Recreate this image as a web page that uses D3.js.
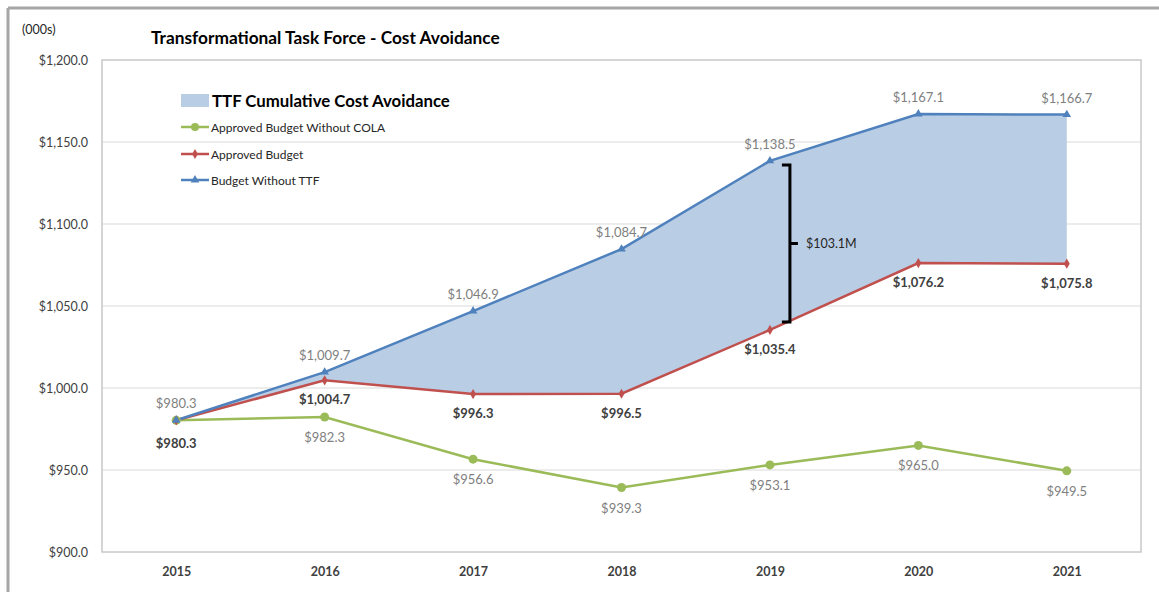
<!DOCTYPE html>
<html><head><meta charset="utf-8">
<script src="https://cdn.jsdelivr.net/npm/d3@7/dist/d3.min.js"></script>
<style>body{margin:0;background:#fff}svg{display:block;font-family:Lato,"Open Sans",sans-serif}</style>
</head><body><svg id="c" width="1159" height="592"></svg>
<script>
const years = ["2015","2016","2017","2018","2019","2020","2021"];
const budgetWithoutTTF = [980.3, 1009.7, 1046.9, 1084.7, 1138.5, 1167.1, 1166.7];
const approvedBudget = [980.3, 1004.7, 996.3, 996.5, 1035.4, 1076.2, 1075.8];
const approvedNoCOLA = [980.3, 982.3, 956.6, 939.3, 953.1, 965.0, 949.5];
const yTicks = [900, 950, 1000, 1050, 1100, 1150, 1200];
const bracket = {year: "2019", from: 1040.2, to: 1136.0, label: "$103.1M"};
const legendItems = ["Approved Budget Without COLA", "Approved Budget", "Budget Without TTF"];

const svg = d3.select("#c");
const L = 102, R = 1141, T = 60, B = 552;
const x = d3.scalePoint().domain(years).range([L, R]).padding(0.5);
const y = d3.scaleLinear().domain([900, 1200]).range([B, T]);
const fmt = v => "$" + d3.format(",.1f")(v);

// outer frame
svg.append("line").attr("x1",8).attr("x2",1159).attr("y1",8).attr("y2",8).attr("stroke","#a6a6a6").attr("stroke-width",3);
svg.append("line").attr("x1",8).attr("x2",8).attr("y1",8).attr("y2",592).attr("stroke","#a6a6a6").attr("stroke-width",3);

// gridlines
svg.append("g").selectAll("line").data(yTicks.slice(1,-1)).join("line")
  .attr("x1",L).attr("x2",R).attr("y1",d=>y(d)).attr("y2",d=>y(d))
  .attr("stroke","#d9d9d9").attr("stroke-width",1);
svg.append("rect").attr("x",L).attr("y",T).attr("width",R-L).attr("height",B-T)
  .attr("fill","none").attr("stroke","#c8c8c8").attr("stroke-width",1.5);

// y axis
const yAxis = d3.axisLeft(y).tickValues(yTicks).tickFormat(fmt).tickSize(0).tickPadding(14);
const gy = svg.append("g").attr("transform",`translate(${L},0)`).call(yAxis);
gy.select(".domain").remove();
gy.selectAll("text").attr("font-size",12.5).attr("fill","#404040").attr("font-family","Lato");
// x axis
const xAxis = d3.axisBottom(x).tickSize(0).tickPadding(15);
const gx = svg.append("g").attr("transform",`translate(0,${B})`).call(xAxis);
gx.select(".domain").remove();
gx.selectAll("text").attr("font-size",12.5).attr("fill","#404040").attr("font-weight","bold").attr("font-family","Lato");

// area
const idx = d3.range(years.length);
svg.append("path").datum(idx)
  .attr("d", d3.area().x(i=>x(years[i])).y0(i=>y(approvedBudget[i])).y1(i=>y(budgetWithoutTTF[i])))
  .attr("fill","#b9cde5");

const line = arr => d3.line().x(i=>x(years[i])).y(i=>y(arr[i]))(idx);
const cG = "#9bbb59", cR = "#c0504d", cB = "#4f81bd";
svg.append("path").attr("d",line(approvedNoCOLA)).attr("fill","none").attr("stroke",cG).attr("stroke-width",2.5);
svg.append("path").attr("d",line(approvedBudget)).attr("fill","none").attr("stroke",cR).attr("stroke-width",2.5);
svg.append("path").attr("d",line(budgetWithoutTTF)).attr("fill","none").attr("stroke",cB).attr("stroke-width",2.5);

// markers
svg.append("g").selectAll("circle").data(idx).join("circle")
  .attr("cx",i=>x(years[i])).attr("cy",i=>y(approvedNoCOLA[i])).attr("r",4.5).attr("fill",cG);
const diamond = d3.symbol().type(d3.symbolDiamond).size(30);
svg.append("g").selectAll("path").data(idx).join("path")
  .attr("transform",i=>`translate(${x(years[i])},${y(approvedBudget[i])})`).attr("d",diamond).attr("fill",cR);
const tri = d3.symbol().type(d3.symbolTriangle).size(32);
svg.append("g").selectAll("path").data(idx).join("path")
  .attr("transform",i=>`translate(${x(years[i])},${y(budgetWithoutTTF[i])})`).attr("d",tri).attr("fill",cB);

// labels
const lbl = svg.append("g").attr("font-size",13).attr("text-anchor","middle");
lbl.selectAll("text.b").data(idx).join("text").attr("class","b")
  .attr("x",i=>x(years[i])).attr("y",i=>y(budgetWithoutTTF[i]) - 12)
  .attr("fill","#7f7f7f").text(i=>fmt(budgetWithoutTTF[i]));
lbl.selectAll("text.r").data(idx).join("text").attr("class","r")
  .attr("x",i=>x(years[i])).attr("y",i=>y(approvedBudget[i]) + (i===0 ? 28 : 24))
  .attr("fill","#404040").attr("font-weight","bold").text(i=>fmt(approvedBudget[i]));
lbl.selectAll("text.g").data(idx.slice(1)).join("text").attr("class","g")
  .attr("x",i=>x(years[i])).attr("y",i=>y(approvedNoCOLA[i]) + 25)
  .attr("fill","#7f7f7f").text(i=>fmt(approvedNoCOLA[i]));

// bracket
const bx = x(bracket.year) + 20, by1 = y(bracket.to), by2 = y(bracket.from), bm = (by1+by2)/2;
svg.append("path").attr("d",`M${bx-8},${by1}H${bx}V${by2}H${bx-8}M${bx},${bm}H${bx+8}`)
  .attr("fill","none").attr("stroke","#000").attr("stroke-width",3);
svg.append("text").attr("x",bx+16).attr("y",bm+4.5).attr("font-size",12.5).attr("fill","#262626").text(bracket.label);

// titles
svg.append("text").attr("x",22).attr("y",34).attr("font-size",12.5).attr("fill","#262626").text("(000s)");
svg.append("text").attr("x",151).attr("y",44).attr("font-size",17.3).attr("font-weight","bold").attr("fill","#000").text("Transformational Task Force - Cost Avoidance");

// legend
svg.append("rect").attr("x",181).attr("y",94).attr("width",28).attr("height",13).attr("fill","#b9cde5");
svg.append("text").attr("x",212).attr("y",107).attr("font-size",16.8).attr("font-weight","bold").attr("fill","#000").text("TTF Cumulative Cost Avoidance");
const legCols = [cG, cR, cB];
const legY = [127, 154, 180];
legendItems.forEach((t,k)=>{
  const g = svg.append("g").attr("transform",`translate(0,${legY[k]})`);
  g.append("line").attr("x1",181).attr("x2",209).attr("stroke",legCols[k]).attr("stroke-width",2.5);
  if(k===0) g.append("circle").attr("cx",195).attr("r",4).attr("fill",cG);
  else g.append("path").attr("transform","translate(195,0)").attr("d",k===1?diamond:tri).attr("fill",legCols[k]);
  g.append("text").attr("x",211).attr("y",4.5).attr("font-size",12).attr("fill","#262626").text(t);
});
</script></body></html>
